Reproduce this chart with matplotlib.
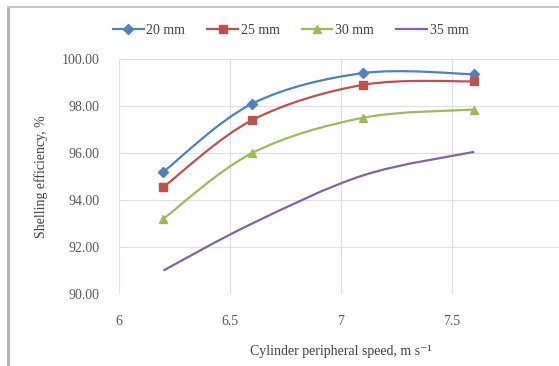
import numpy as np
import matplotlib
matplotlib.use("Agg")
import matplotlib.pyplot as plt
from matplotlib.path import Path
from matplotlib.patches import PathPatch
from matplotlib.lines import Line2D

# --- data -----------------------------------------------------------------
speed = [6.2, 6.6, 7.1, 7.6]
eff_20 = [95.2, 98.1, 99.4, 99.35]
eff_25 = [94.55, 97.4, 98.9, 99.05]
eff_30 = [93.2, 96.0, 97.5, 97.85]
eff_35 = [91.0, 93.0, 95.05, 96.05]
labels = ["20 mm", "25 mm", "30 mm", "35 mm"]
xticks = [6, 6.5, 7, 7.5, 8]
xticklabels = ["6", "6.5", "7", "7.5", "8"]
yticks = [90, 92, 94, 96, 98, 100]

plt.rcParams["font.family"] = ["Liberation Serif", "DejaVu Serif"]


def smooth_path(x, y):
    """Excel-style smoothed line: Catmull-Rom segments as cubic Beziers."""
    x, y = np.asarray(x, float), np.asarray(y, float)
    px = np.concatenate([[x[0]], x, [x[-1]]])
    py = np.concatenate([[y[0]], y, [y[-1]]])
    verts, codes = [(x[0], y[0])], [Path.MOVETO]
    for i in range(1, len(px) - 2):
        c1 = (px[i] + (px[i + 1] - px[i - 1]) / 6, py[i] + (py[i + 1] - py[i - 1]) / 6)
        c2 = (px[i + 1] - (px[i + 2] - px[i]) / 6, py[i + 1] - (py[i + 2] - py[i]) / 6)
        verts += [c1, c2, (px[i + 1], py[i + 1])]
        codes += [Path.CURVE4] * 3
    return Path(verts, codes)


fig = plt.figure(figsize=(5.59, 3.66), dpi=100)
ax = fig.add_axes([0.2129, 0.1967, 0.7943, 0.6421])

series = [
    (eff_20, "#4F81BD", "D", 5),
    (eff_25, "#C0504D", "s", 6),
    (eff_30, "#9BBB59", "^", 6),
    (eff_35, "#8064A2", None, 0),
]
handles = []
for (vals, color, marker, ms), lbl in zip(series, labels):
    ax.add_patch(PathPatch(smooth_path(speed, vals), fill=False,
                           edgecolor=color, lw=1.6, zorder=3))
    if marker:
        ax.plot(speed, vals, ls="none", marker=marker, ms=ms, color=color, zorder=4)
    handles.append(Line2D([], [], color=color, lw=1.6, marker=marker, ms=ms))

ax.set_xlim(6, 8)
ax.set_ylim(90, 100)
ax.set_xticks(xticks)
ax.set_xticklabels(xticklabels)
ax.set_yticks(yticks)
ax.set_yticklabels([f"{v:.2f}" for v in yticks])
ax.grid(True, color="#e0e0e0", lw=0.9)
ax.set_axisbelow(True)
for s in ax.spines.values():
    s.set_visible(False)
ax.tick_params(length=0, labelsize=10, colors="#595959", pad=14)
ax.tick_params(axis="x", pad=15)

ax.set_xlabel("Cylinder peripheral speed, m s\u207b\u00b9", fontsize=10,
              color="#404040", labelpad=12)
ax.set_ylabel("Shelling efficiency, %", fontsize=10, color="#404040", labelpad=10)

fig.legend(handles, labels, loc="center", bbox_to_anchor=(0.52, 0.918), ncol=4,
           frameon=False, fontsize=10, handlelength=2.2, columnspacing=1.6,
           handletextpad=0.2, labelcolor="#404040")

# frame of the original figure box
fig.add_artist(Line2D([0.015, 0.015], [0, 0.982], color="#b0b0b0", lw=2,
                      transform=fig.transFigure))
fig.add_artist(Line2D([0.015, 1.0], [0.982, 0.982], color="#c8c8c8", lw=1.5,
                      transform=fig.transFigure))

fig.savefig("out.png", dpi=100)
